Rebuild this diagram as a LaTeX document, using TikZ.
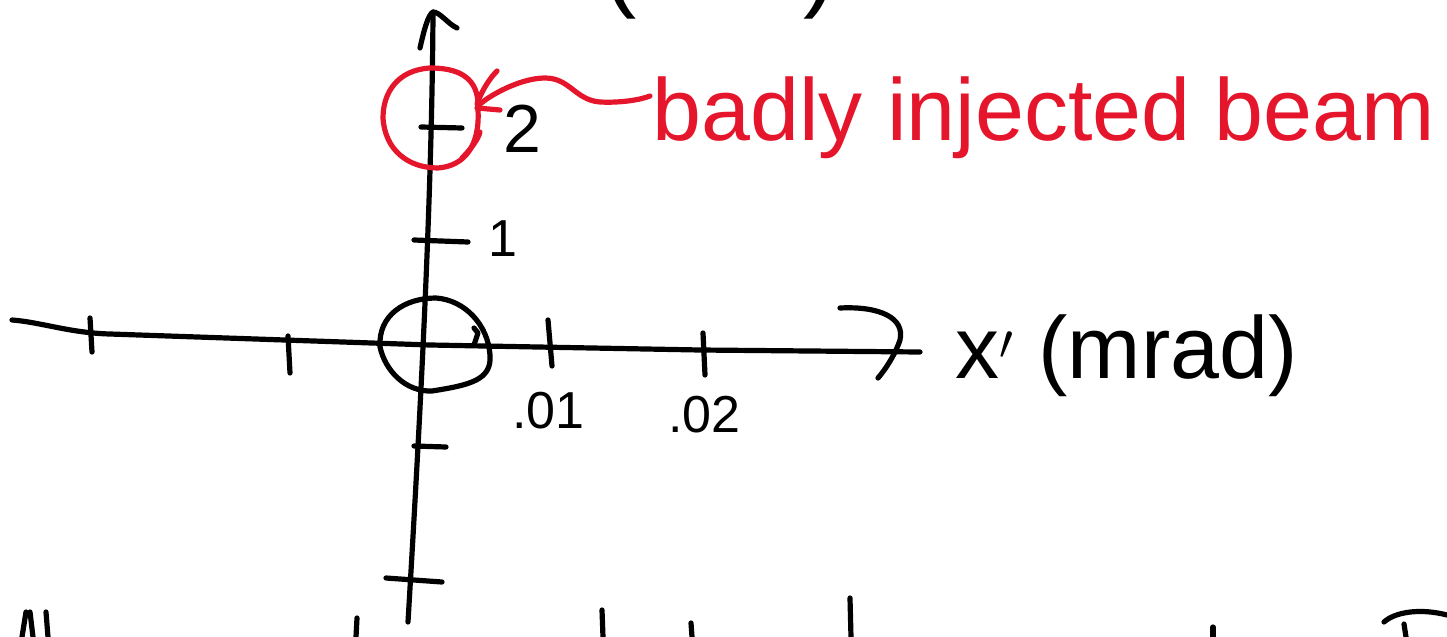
\documentclass[tikz,border=0pt]{standalone}
\usepackage{fontspec}
\setmainfont{Liberation Sans}
\definecolor{inkred}{HTML}{E5162B}
\begin{document}
\begin{tikzpicture}[x=0.5pt,y=-0.5pt,
  ink/.style={line width=2.6pt,line cap=round,line join=round,black},
  redink/.style={line width=2.6pt,line cap=round,line join=round,inkred},
  lbl/.style={inner sep=0pt,font=\fontsize{26}{26}\selectfont},
  bigl/.style={inner sep=0pt,font=\fontsize{44}{44}\selectfont}]
\useasboundingbox (0,0) rectangle (1447,637);
\begin{scope}
\clip (0,0) rectangle (1447,637);
% vertical axis
\coordinate (vtop) at (433,12);
\coordinate (vbot) at (408,622);
\draw[ink] (vbot) .. controls (420,420) and (432,200) .. (vtop);
\draw[ink] (420,48) .. controls (424,30) and (428,15) .. (vtop) .. controls (440,12) and (448,24) .. (457,28);
% horizontal axis
\coordinate (hl) at (12,320);
\coordinate (hr) at (920,352);
\draw[ink] (hl) .. controls (40,322) and (70,333) .. (110,334) -- (430,345) -- (700,350) -- (hr);
\draw[ink] (840,308) .. controls (880,306) and (905,318) .. (900,340) .. controls (895,355) and (885,370) .. (878,378);
% ticks horizontal
\draw[ink] (90,318) -- (92,352);
\draw[ink] (288,336) -- (290,373);
\draw[ink] (548,320) -- (552,366);
\draw[ink] (703,333) -- (705,375);
% ticks vertical
\draw[ink] (421,127) -- (462,128);
\draw[ink] (414,240) -- (468,242);
\draw[ink] (414,446) -- (446,447);
\draw[ink] (386,578) -- (442,582);
% origin circle
\node[draw=none,inner sep=0pt,minimum size=0pt] (orig) at (434,345) {};
\draw[ink] (380,347) .. controls (378,315) and (405,298) .. (436,298)
  .. controls (465,300) and (488,325) .. (490,355)
  .. controls (492,380) and (470,385) .. (432,391)
  .. controls (405,392) and (385,370) .. (380,347);
\draw[ink] (474,328) -- (478,333) -- (474,345);
% red circle
\node[inner sep=0pt] (beam) at (432,118) {};
\draw[redink] (478,102) .. controls (476,75) and (455,68) .. (430,68)
  .. controls (398,70) and (383,92) .. (383,118)
  .. controls (385,150) and (408,168) .. (438,168)
  .. controls (465,166) and (480,145) .. (478,110);
\draw[redink] (462,158) .. controls (470,150) and (478,140) .. (480,132);
% red leader
\draw[redink] (478,106) .. controls (488,96) and (520,78) .. (545,78)
  .. controls (570,78) and (575,100) .. (600,102)
  .. controls (620,103) and (640,100) .. (650,96);
\draw[redink] (477,104) .. controls (482,90) and (490,78) .. (497,71);
\draw[redink] (477,108) -- (500,110);
% labels
\node[lbl,font=\fontsize{34}{34}\selectfont,anchor=base west] (l2) at (503,152) {2};
\node[lbl,anchor=base west] (l1) at (488,256) {1};
\node[lbl,anchor=base west] (l01) at (512,428) {.01};
\node[lbl,anchor=base west] (l02) at (668,432) {.02};
\node[bigl,anchor=base west] (xl) at (955,378) {x$'$ (mrad)};
\node[bigl,text=inkred,anchor=base west] (bl) at (652,140) {badly injected beam};
\node[bigl,font=\fontsize{50}{50}\selectfont,anchor=base west] (top) at (525,-2) {x (mm)};
% cut-off text at bottom
\draw[ink] (22,637) -- (26,612); \draw[ink] (30,612) -- (33,637);
\draw[ink] (46,612) -- (48,637);
\draw[ink] (356,637) -- (357,618);
\draw[ink] (603,637) -- (602,610);
\draw[ink] (692,637) -- (691,623);
\draw[ink] (851,637) -- (850,598);
\draw[ink] (1213,637) -- (1213,627);
\draw[ink] (1384,622) .. controls (1395,612) and (1420,608) .. (1447,615);
\draw[ink] (1406,637) -- (1404,624);
\end{scope}
\end{tikzpicture}
\end{document}
